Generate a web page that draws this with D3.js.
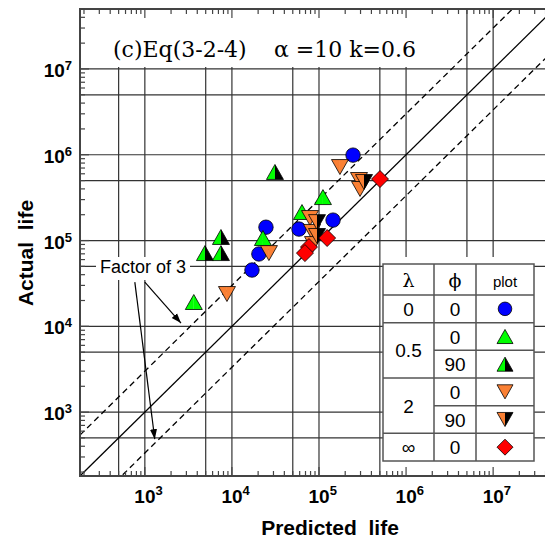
<!DOCTYPE html>
<html>
<head>
<meta charset="utf-8">
<script src="https://cdn.jsdelivr.net/npm/d3@7"></script>
<style>
  body { margin: 0; background: #fff; }
  svg { display: block; }
</style>
</head>
<body>
<svg id="chart"></svg>
<script>
// [predicted, actual] per series
var circles_0 = [[24600, 143000], [20400, 69700], [17000, 45300], [58900, 136000], [145000, 173000], [246000, 990000]];
var tri_up_05_0 = [[22700, 107000], [3650, 19200], [111000, 321000], [63800, 215000]];
var tri_up_05_90 = [[7480, 110000], [4900, 71400], [7480, 71400], [31200, 630000]];
var tri_down_2_0 = [[26600, 71400], [8770, 23800], [174000, 719000], [288000, 508000], [296000, 399000], [78900, 183000], [83200, 126000], [85300, 91000]];
var tri_down_2_90 = [[329000, 481000], [94900, 164000], [94900, 113000]];
var diamonds_inf = [[502000, 521000], [124000, 107000], [76700, 84000], [69000, 71400]];

var series_names = ["circle", "up", "up_half", "down", "down_half", "diamond"];
var series_data = [circles_0, tri_up_05_0, tri_up_05_90, tri_down_2_0, tri_down_2_90, diamonds_inf];

var grid_values = [500, 1e3, 5e3, 1e4, 5e4, 1e5, 5e5, 1e6, 5e6, 1e7];
var tick_exps = [3, 4, 5, 6, 7];
var factor_values = [1 / 3, 1, 3];

var lambda_labels = ["0", "0.5", "2", "\u221e"];
var lambda_spans = [1, 2, 2, 1];
var phi_labels = ["0", "0", "90", "0", "90", "0"];
var header_labels = ["\u03bb", "\u03d5", "plot"];

// "Factor of 3" arrows, data coords
var arrow_from = [[1000, 32800], [767, 32800]];
var arrow_to = [[2600, 10900], [1300, 484]];

var w = 545, h = 540;
var colors = {
  "blue": "#0000ff",
  "green": "#00ff00",
  "orange": "#fa8034",
  "red": "#ff0000",
  "grid": "#333",
  "frame": "#444"
};

var svg = d3.select("#chart").attr("width", w).attr("height", h);

var plot = {left: 80, top: 9, right: 554, bottom: 476};
var x = d3.scaleLog().domain([180, 5e7]).range([plot.left, plot.right]);
var y = d3.scaleLog().domain([180, 5e7]).range([plot.bottom, plot.top]);

svg.append("defs").append("clipPath").attr("id", "clip")
  .append("rect")
  .attr("x", plot.left).attr("y", plot.top)
  .attr("width", plot.right - plot.left).attr("height", plot.bottom - plot.top);

svg.select("defs").append("marker")
  .attr("id", "arrow")
  .attr("viewBox", "0 0 10 10")
  .attr("refX", 10).attr("refY", 5)
  .attr("markerWidth", 10).attr("markerHeight", 10)
  .attr("markerUnits", "userSpaceOnUse")
  .attr("orient", "auto")
  .append("path").attr("d", "M0,1.5L10,5L0,8.5Z").attr("fill", "#000");

// grid
var grid = svg.append("g").attr("clip-path", "url(#clip)");
grid.selectAll(".vgrid").data(grid_values).enter().append("line")
  .attr("x1", d => x(d)).attr("x2", d => x(d))
  .attr("y1", plot.top).attr("y2", plot.bottom)
  .attr("stroke", colors.grid).attr("stroke-width", 1.2);
grid.selectAll(".hgrid").data(grid_values).enter().append("line")
  .attr("y1", d => y(d)).attr("y2", d => y(d))
  .attr("x1", plot.left).attr("x2", plot.right)
  .attr("stroke", colors.grid).attr("stroke-width", 1.2);

// factor lines
var lo = x.domain()[0], hi = x.domain()[1];
grid.selectAll(".factor").data(factor_values).enter().append("line")
  .attr("x1", x(lo)).attr("y1", d => y(lo * d))
  .attr("x2", x(hi)).attr("y2", d => y(hi * d))
  .attr("stroke", "#000").attr("stroke-width", 1.3)
  .attr("stroke-dasharray", d => d == 1 ? null : "6,4");

// white boxes: title, label, table
var t_cols = [383, 434, 476, 534];
var t_top = 264, t_head = 295, t_bottom = 461;
svg.append("rect").attr("x", plot.left + 1).attr("y", plot.top + 1).attr("width", 352).attr("height", 57).attr("fill", "#fff");
svg.append("rect").attr("x", 96).attr("y", 257).attr("width", 94).attr("height", 23).attr("fill", "#fff");
svg.append("rect").attr("x", t_cols[0]).attr("y", 257).attr("width", t_cols[3] - t_cols[0]).attr("height", plot.bottom - 258).attr("fill", "#fff");

// markers
function draw_marker(g, type, size) {
  var s = size, hh = size * 0.88;
  if (type == "circle") {
    g.append("circle").attr("r", s * 0.85).attr("fill", colors.blue).attr("stroke", "#000").attr("stroke-width", 0.8);
  } else if (type == "up" || type == "up_half") {
    g.append("path").attr("d", "M0," + (-hh) + "L0," + hh + "L" + (-s) + "," + hh + "Z").attr("fill", colors.green);
    g.append("path").attr("d", "M0," + (-hh) + "L" + s + "," + hh + "L0," + hh + "Z").attr("fill", type == "up" ? colors.green : "#000");
    g.append("path").attr("d", "M0," + (-hh) + "L" + s + "," + hh + "L" + (-s) + "," + hh + "Z").attr("fill", "none").attr("stroke", "#000").attr("stroke-width", 0.8);
  } else if (type == "down" || type == "down_half") {
    g.append("path").attr("d", "M" + (-s) + "," + (-hh) + "L0," + (-hh) + "L0," + hh + "Z").attr("fill", colors.orange);
    g.append("path").attr("d", "M0," + (-hh) + "L" + s + "," + (-hh) + "L0," + hh + "Z").attr("fill", type == "down" ? colors.orange : "#000");
    g.append("path").attr("d", "M" + (-s) + "," + (-hh) + "L" + s + "," + (-hh) + "L0," + hh + "Z").attr("fill", "none").attr("stroke", "#000").attr("stroke-width", 0.8);
  } else if (type == "diamond") {
    g.append("path").attr("d", "M0," + (-s) + "L" + s + ",0L0," + s + "L" + (-s) + ",0Z").attr("fill", colors.red).attr("stroke", "#000").attr("stroke-width", 0.8);
  }
}

series_names.forEach(function(name, i) {
  svg.append("g").selectAll("g").data(series_data[i]).enter().append("g")
    .attr("transform", d => "translate(" + x(d[0]) + "," + y(d[1]) + ")")
    .each(function() { draw_marker(d3.select(this), name, 8.5); });
});

// frame and ticks
var frame = svg.append("g");
frame.append("rect")
  .attr("x", plot.left).attr("y", plot.top)
  .attr("width", plot.right - plot.left).attr("height", plot.bottom - plot.top)
  .attr("fill", "none").attr("stroke", colors.frame).attr("stroke-width", 2);
var all_ticks = x.ticks();
function tick_len(d) { return Math.abs(Math.log10(d) % 1) < 1e-6 ? 9 : 5; }
frame.selectAll(".bt").data(all_ticks).enter().append("line")
  .attr("x1", d => x(d)).attr("x2", d => x(d))
  .attr("y1", plot.bottom).attr("y2", d => plot.bottom - tick_len(d))
  .attr("stroke", colors.frame).attr("stroke-width", 1.2);
frame.selectAll(".tt").data(all_ticks).enter().append("line")
  .attr("x1", d => x(d)).attr("x2", d => x(d))
  .attr("y1", plot.top).attr("y2", d => plot.top + tick_len(d))
  .attr("stroke", colors.frame).attr("stroke-width", 1.2);
frame.selectAll(".lt").data(y.ticks()).enter().append("line")
  .attr("y1", d => y(d)).attr("y2", d => y(d))
  .attr("x1", plot.left).attr("x2", d => plot.left + tick_len(d))
  .attr("stroke", colors.frame).attr("stroke-width", 1.2);

// tick labels
var xl = svg.selectAll(".xl").data(tick_exps).enter().append("text")
  .attr("x", d => x(Math.pow(10, d)) - 10.5).attr("y", 503)
  .attr("font-family", "Liberation Sans, Arial, sans-serif").attr("font-weight", "bold").attr("font-size", 19)
  .text("10");
xl.append("tspan").attr("dy", -8).attr("font-size", 13).text(d => d);

var yl = svg.selectAll(".yl").data(tick_exps).enter().append("text")
  .attr("x", 72).attr("y", d => y(Math.pow(10, d)) + 8)
  .attr("text-anchor", "end")
  .attr("font-family", "Liberation Sans, Arial, sans-serif").attr("font-weight", "bold").attr("font-size", 19)
  .text("10");
yl.append("tspan").attr("dy", -7).attr("font-size", 13).text(d => d);

// axis titles
svg.append("text").attr("x", 330).attr("y", 535).attr("text-anchor", "middle")
  .attr("font-family", "Liberation Sans, Arial, sans-serif").attr("font-weight", "bold").attr("font-size", 21)
  .attr("xml:space", "preserve").text("Predicted  life");
svg.append("text").attr("transform", "translate(33,253) rotate(-90)").attr("text-anchor", "middle")
  .attr("font-family", "Liberation Sans, Arial, sans-serif").attr("font-weight", "bold").attr("font-size", 21)
  .attr("xml:space", "preserve").text("Actual  life");

// title
svg.append("text").attr("x", 113).attr("y", 57)
  .attr("font-family", "DejaVu Serif, serif").attr("font-size", 22).text("(c)Eq(3-2-4)");
svg.append("text").attr("x", 274).attr("y", 57)
  .attr("font-family", "DejaVu Serif, serif").attr("font-size", 22).text("\u03b1 =10 k=0.6");

// Factor of 3
svg.append("text").attr("x", 100).attr("y", 273)
  .attr("font-family", "Liberation Sans, Arial, sans-serif").attr("font-size", 18).text("Factor of 3");
svg.selectAll(".arr").data(arrow_from).enter().append("line")
  .attr("x1", d => x(d[0])).attr("y1", d => y(d[1]))
  .attr("x2", (d, i) => x(arrow_to[i][0])).attr("y2", (d, i) => y(arrow_to[i][1]))
  .attr("stroke", "#000").attr("stroke-width", 1.2)
  .attr("marker-end", "url(#arrow)");

// legend table
var table = svg.append("g");
var row_y = d3.scaleLinear().domain([0, phi_labels.length]).range([t_head, t_bottom]);
var tline = "#555";
table.append("rect").attr("x", t_cols[0]).attr("y", t_top)
  .attr("width", t_cols[3] - t_cols[0]).attr("height", t_bottom - t_top)
  .attr("fill", "none").attr("stroke", tline).attr("stroke-width", 1.5);
[1, 2].forEach(function(c) {
  table.append("line").attr("x1", t_cols[c]).attr("x2", t_cols[c]).attr("y1", t_top).attr("y2", t_bottom)
    .attr("stroke", tline).attr("stroke-width", 1.5);
});
table.append("line").attr("x1", t_cols[0]).attr("x2", t_cols[3]).attr("y1", t_head).attr("y2", t_head)
  .attr("stroke", tline).attr("stroke-width", 1.5);
var group_ends = Array.from(d3.cumsum(lambda_spans));
var group_starts = [0].concat(group_ends.slice(0, -1));
d3.range(1, phi_labels.length).forEach(function(r) {
  var full = group_ends.indexOf(r) >= 0;
  table.append("line").attr("x1", full ? t_cols[0] : t_cols[1]).attr("x2", t_cols[3])
    .attr("y1", row_y(r)).attr("y2", row_y(r))
    .attr("stroke", tline).attr("stroke-width", 1.5);
});

var col_mid = [0, 1, 2].map(c => (t_cols[c] + t_cols[c + 1]) / 2);
table.selectAll(".hd").data(header_labels).enter().append("text")
  .attr("x", (d, i) => col_mid[i]).attr("y", 287)
  .attr("text-anchor", "middle")
  .attr("font-family", (d, i) => i < 2 ? "DejaVu Serif, serif" : "Liberation Sans, Arial, sans-serif")
  .attr("font-size", (d, i) => i < 2 ? 19 : 15)
  .text(d => d);

table.selectAll(".lam").data(lambda_labels).enter().append("text")
  .attr("x", col_mid[0])
  .attr("y", (d, i) => (row_y(group_starts[i]) + row_y(group_ends[i])) / 2 + 7)
  .attr("text-anchor", "middle")
  .attr("font-family", "Liberation Sans, Arial, sans-serif").attr("font-size", 19)
  .text(d => d);
table.selectAll(".phi").data(phi_labels).enter().append("text")
  .attr("x", col_mid[1])
  .attr("y", (d, i) => (row_y(i) + row_y(i + 1)) / 2 + 7)
  .attr("text-anchor", "middle")
  .attr("font-family", "Liberation Sans, Arial, sans-serif").attr("font-size", 19)
  .text(d => d);
table.selectAll(".mk").data(series_names).enter().append("g")
  .attr("transform", (d, i) => "translate(" + col_mid[2] + "," + (row_y(i) + row_y(i + 1)) / 2 + ")")
  .each(function(d) { draw_marker(d3.select(this), d, 8); });
</script>
</body>
</html>
